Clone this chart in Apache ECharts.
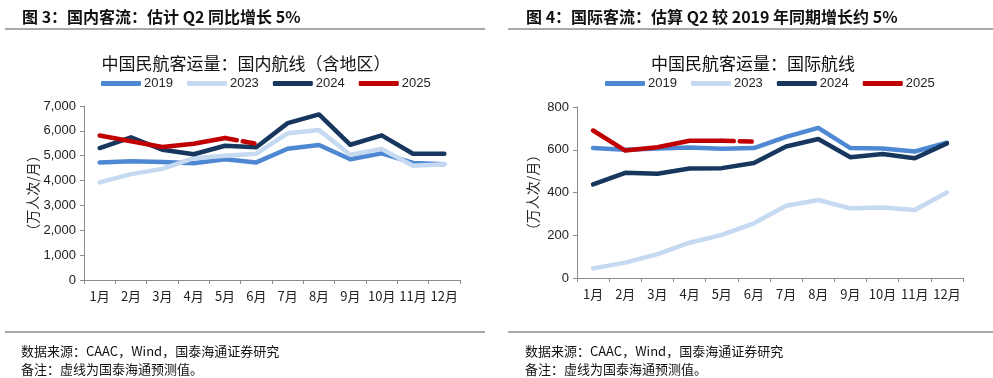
<!DOCTYPE html>
<html><head><meta charset="utf-8">
<script src="https://cdn.jsdelivr.net/npm/echarts@6/dist/echarts.min.js"></script>
<style>html,body{margin:0;padding:0;background:#fff}#c{width:993px;height:378px}</style>
</head><body><div id="c"></div>
<script>
const months = ['1月','2月','3月','4月','5月','6月','7月','8月','9月','10月','11月','12月'];
// Domestic (万人次/月)
const dom2019 = [4730,4780,4750,4700,4860,4730,5280,5430,4860,5100,4710,4660];
const dom2023 = [3930,4260,4470,4900,5000,5080,5900,6030,5040,5270,4600,4660];
const dom2024 = [5310,5740,5240,5060,5400,5340,6310,6660,5440,5820,5080,5080];
const dom2025 = [5810,5580,5350,5480,5710];
const dom2025f = [null,null,null,null,5710,5480];
// International (万人次/月)
const int2019 = [608,600,606,610,605,608,660,702,608,606,592,633];
const int2023 = [45,72,112,165,202,256,338,365,326,330,318,400];
const int2024 = [438,492,488,512,514,538,615,650,565,580,560,630];
const int2025 = [690,596,612,642,642];
const int2025f = [null,null,null,null,642,638];
const legendNames = ['2019','2023','2024','2025'];

const C19='#4F88D2', C23='#C5D9F1', C24='#17375E', C25='#C00000';
const font = '"Noto Sans CJK SC", "Liberation Sans", sans-serif';
const chart = echarts.init(document.getElementById('c'));

function line(name, data, color, gi, dashed){
  return {type:'line', name, data, xAxisIndex:gi, yAxisIndex:gi, symbol:'none', smooth:false,
    connectNulls:false, silent:true,
    lineStyle:{color, width:4.5, type: dashed ? [12,6] : 'solid', cap:'round', join:'round'},
    itemStyle:{color}, z: name.startsWith('2025') ? 5 : (name==='2024'?4:3)};
}
function xAx(gi){
  return {type:'category', gridIndex:gi, data:months, boundaryGap:true,
    axisLine:{lineStyle:{color:'#8c8c8c', width:1}},
    axisTick:{show:true, length:4, lineStyle:{color:'#8c8c8c'}},
    axisLabel:{color:'#222', fontSize:13, fontFamily:font, margin:10, interval:0}};
}
function yAx(gi, max, interval, gap){
  return {type:'value', gridIndex:gi, min:0, max, interval,
    name:'（万人次/月）', nameLocation:'middle', nameRotate:90, nameGap:gap,
    nameTextStyle:{color:'#222', fontSize:14, fontFamily:font},
    axisLine:{show:true, lineStyle:{color:'#8c8c8c', width:1}},
    axisTick:{show:true, length:4, lineStyle:{color:'#8c8c8c'}},
    splitLine:{show:false},
    axisLabel:{color:'#222', fontSize:13, fontFamily:'"Liberation Sans", Arial, sans-serif', margin:8,
      formatter:v=>v.toLocaleString('en-US')}};
}
function legend(left){
  return {left, top:72, itemWidth:40, itemHeight:5, itemGap:14, icon:'roundRect',
    data:legendNames, selectedMode:false,
    textStyle:{color:'#222', fontSize:13, fontFamily:'"Liberation Sans", Arial, sans-serif', padding:[0,0,0,-2]}};
}
chart.setOption({
  animation:false,
  backgroundColor:'#fff',
  title:[
    {text:'图 3：国内客流：估计 Q2 同比增长 5%', left:17, top:4, textStyle:{fontSize:16, fontWeight:'bold', color:'#111', fontFamily:font}},
    {text:'图 4：国际客流：估算 Q2 较 2019 年同期增长约 5%', left:521, top:4, textStyle:{fontSize:16, fontWeight:'bold', color:'#111', fontFamily:font}},
    {text:'中国民航客运量：国内航线（含地区）', left:241, textAlign:'center', top:50, textStyle:{fontSize:17, fontWeight:'normal', color:'#111', fontFamily:font}},
    {text:'中国民航客运量：国际航线', left:748, textAlign:'center', top:50, textStyle:{fontSize:17, fontWeight:'normal', color:'#111', fontFamily:font}},
    {text:'数据来源：CAAC，Wind，国泰海通证券研究\n备注：虚线为国泰海通预测值。', left:16, top:337, textStyle:{fontSize:13, fontWeight:'normal', color:'#111', fontFamily:font, lineHeight:18}},
    {text:'数据来源：CAAC，Wind，国泰海通证券研究\n备注：虚线为国泰海通预测值。', left:520, top:337, textStyle:{fontSize:13, fontWeight:'normal', color:'#111', fontFamily:font, lineHeight:18}}
  ],
  graphic:[
    {type:'line', shape:{x1:5,y1:29,x2:485,y2:29}, style:{stroke:'#555', lineWidth:1}},
    {type:'line', shape:{x1:508,y1:29,x2:993,y2:29}, style:{stroke:'#555', lineWidth:1}},
    {type:'line', shape:{x1:5,y1:332,x2:485,y2:332}, style:{stroke:'#555', lineWidth:1}},
    {type:'line', shape:{x1:508,y1:332,x2:993,y2:332}, style:{stroke:'#555', lineWidth:1}}
  ],
  legend:[legend(96), legend(600)],
  grid:[
    {left:84, top:106, width:376, height:174},
    {left:577, top:107, width:386, height:171}
  ],
  xAxis:[xAx(0), xAx(1)],
  yAxis:[yAx(0,7000,1000,44), yAx(1,800,200,37)],
  series:[
    line('2019', dom2019, C19, 0), line('2023', dom2023, C23, 0), line('2024', dom2024, C24, 0),
    line('2025', dom2025, C25, 0), line('2025预测', dom2025f, C25, 0, true),
    line('2019', int2019, C19, 1), line('2023', int2023, C23, 1), line('2024', int2024, C24, 1),
    line('2025', int2025, C25, 1), line('2025预测', int2025f, C25, 1, true)
  ]
});
</script></body></html>
